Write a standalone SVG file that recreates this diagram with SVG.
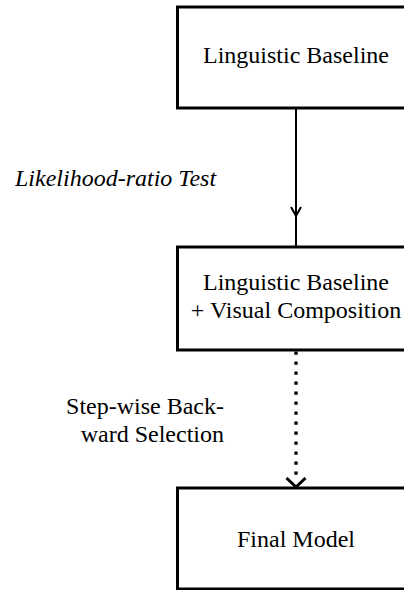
<svg xmlns="http://www.w3.org/2000/svg" width="404" height="590" viewBox="0 0 404 590">
<style>
.box{fill:#fff;stroke:#000;stroke-width:3}
text{font-family:'Liberation Serif','Times New Roman',Tinos,'DejaVu Serif',serif;font-size:24px;fill:#000}
.c{text-anchor:middle}
</style>
<rect width="404" height="590" fill="#fff"/>
<g id="connectors" fill="none" stroke="#000">
<line x1="296" y1="108" x2="296" y2="247" stroke-width="2"/>
<path d="M291,207 L296,216 L301,207" stroke-width="2"/>
<line x1="296" y1="351.5" x2="296" y2="475" stroke-width="3.3" stroke-dasharray="3.3 6.7"/>
<path d="M286.5,478 L296,487 L305.5,478" stroke-width="3"/>
</g>
<g id="n1">
<rect class="box" x="177.5" y="7" width="237" height="101"/>
<text class="c" x="296" y="63" font-family="Liberation Serif, serif">Linguistic Baseline</text>
</g>
<g id="n2">
<rect class="box" x="177.5" y="247" width="237" height="103"/>
<text class="c" x="296" y="290">Linguistic Baseline</text>
<text class="c" x="296" y="318">+ Visual Composition</text>
</g>
<g id="n3">
<rect class="box" x="177.5" y="488" width="237" height="101"/>
<text class="c" x="296" y="547">Final Model</text>
</g>
<g id="labels">
<text x="15" y="186" font-style="italic">Likelihood-ratio Test</text>
<text x="224" y="414" text-anchor="end">Step-wise Back-</text>
<text x="224" y="442" text-anchor="end">ward Selection</text>
</g>
</svg>
